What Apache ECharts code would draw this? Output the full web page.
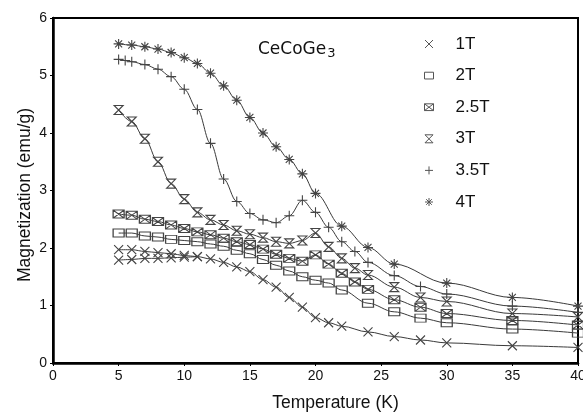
<!DOCTYPE html>
<html><head><meta charset="utf-8">
<script src="https://cdn.jsdelivr.net/npm/echarts@6/dist/echarts.min.js"></script>
<style>html,body{margin:0;padding:0;background:#fff}#c{width:583px;height:412px}</style>
</head><body><div id="c"></div>
<script>
const xTicks = [0,5,10,15,20,25,30,35,40];
const yTicks = [0,1,2,3,4,5,6];
const seriesNames = ['1T','2T','2.5T','3T','3.5T','4T'];

const t1T = [5,6,7,8,9,10,11,12,13,14,15,16,17,18,19,20,21,22,24,26,28,30,35,40];
const m1T = [1.97,1.97,1.94,1.92,1.90,1.87,1.85,1.81,1.75,1.67,1.59,1.45,1.32,1.14,0.97,0.79,0.70,0.64,0.54,0.46,0.40,0.35,0.30,0.27];
const t1Tb = [5,6,7,8,9,10,11];
const m1Tb = [1.79,1.80,1.82,1.82,1.83,1.84,1.85];

const t2T = [5,6,7,8,9,10,11,12,13,14,15,16,17,18,19,20,21,22,24,26,28,30,35,40];
const m2T = [2.26,2.26,2.21,2.19,2.15,2.13,2.11,2.07,2.03,1.96,1.90,1.80,1.70,1.60,1.50,1.44,1.39,1.27,1.04,0.89,0.78,0.70,0.59,0.52];

const t25T = [5,6,7,8,9,10,11,12,13,14,15,16,17,18,19,20,21,22,23,24,26,28,30,35,40];
const m25T = [2.59,2.57,2.50,2.46,2.40,2.34,2.28,2.23,2.17,2.11,2.06,1.98,1.89,1.82,1.77,1.88,1.72,1.56,1.41,1.28,1.10,0.97,0.86,0.74,0.66];

const t3T = [5,6,7,8,9,10,11,12,13,14,15,16,17,18,19,20,21,22,23,24,26,28,30,35,40];
const m3T = [4.40,4.20,3.90,3.50,3.12,2.85,2.62,2.49,2.40,2.30,2.24,2.18,2.11,2.08,2.13,2.26,2.02,1.82,1.65,1.53,1.32,1.14,1.07,0.86,0.80];

const t35T = [5,5.5,6,7,8,9,10,11,12,13,14,15,16,17,18,19,20,21,22,23,24,26,28,30,35,40];
const m35T = [5.28,5.26,5.24,5.19,5.11,4.98,4.76,4.41,3.82,3.20,2.81,2.60,2.49,2.44,2.56,2.83,2.62,2.36,2.11,1.94,1.75,1.52,1.33,1.20,0.99,0.88];

const t4T = [5,6,7,8,9,10,11,12,13,14,15,16,17,18,19,20,22,24,26,30,35,40];
const m4T = [5.55,5.53,5.50,5.46,5.40,5.31,5.21,5.04,4.82,4.57,4.27,4.00,3.76,3.54,3.29,2.95,2.38,2.01,1.72,1.39,1.14,0.99];

const sym = {
  '1T': 'path://M0,0L10,10M10,0L0,10',
  '2T': 'path://M0,0L12,0L12,9L0,9Z',
  '2.5T': 'path://M0,0L12,0L12,9L0,9ZM0,0L12,9M12,0L0,9',
  '3T': 'path://M0,0L10,0L0,10L10,10Z',
  '3.5T': 'path://M5,0L5,10M0,5L10,5',
  '4T': 'path://M5,0L5,10M0,5L10,5M1.5,1.5L8.5,8.5M8.5,1.5L1.5,8.5'
};
const sizes = {'1T':[9,9],'2T':[11,8],'2.5T':[11,8],'3T':[9,9],'3.5T':[10,10],'4T':[10,10]};
const pairs = (t,m)=>t.map((v,i)=>[v,m[i]]);
const mk = (name, t, m, key) => ({
  name: name, type: 'line', data: pairs(t,m), smooth: 0.35, smoothMonotone: 'x',
  symbol: sym[key], symbolSize: sizes[key], showSymbol: true,
  lineStyle: {color:'#3a3a3a', width:1},
  itemStyle: {color:'rgba(0,0,0,0)', borderColor:'#444', borderWidth:1.1},
  emphasis:{disabled:true}, z: 3
});
const series = [
  mk('1T', t1T, m1T, '1T'),
  mk('1T run b', t1Tb, m1Tb, '1T'),
  mk('2T', t2T, m2T, '2T'),
  mk('2.5T', t25T, m25T, '2.5T'),
  mk('3T', t3T, m3T, '3T'),
  mk('3.5T', t35T, m35T, '3.5T'),
  mk('4T', t4T, m4T, '4T')
];
const chart = echarts.init(document.getElementById('c'), null, {renderer:'canvas'});
chart.setOption({
  animation: false,
  backgroundColor: '#fff',
  textStyle: {fontFamily: 'Liberation Sans, Arial, sans-serif'},
  grid: {left: 53, right: 5, top: 18, bottom: 49, containLabel: false, outerBoundsMode: 'none',
         show: true, borderColor: '#000', borderWidth: 2, backgroundColor: 'transparent'},
  xAxis: {
    type: 'value', min: 0, max: 40, interval: 5,
    name: 'Temperature (K)', nameLocation: 'middle', nameGap: 31, nameMoveOverlap: false,
    nameTextStyle: {fontSize: 17.5, color: '#111', padding: [0,0,0,40]},
    axisLine: {show: true, lineStyle: {color:'#000', width: 2.5}},
    axisTick: {show: true, inside: false, length: 3, lineStyle:{color:'#000'}},
    axisLabel: {fontSize: 14, color: '#111', margin: 6},
    splitLine: {show: false}
  },
  yAxis: {
    type: 'value', min: 0, max: 6, interval: 1,
    name: 'Magnetization (emu/g)', nameLocation: 'middle', nameGap: 19, nameMoveOverlap: false,
    nameTextStyle: {fontSize: 17.5, color: '#111', padding: [0,9,0,0]},
    axisLine: {show: true, lineStyle: {color:'#000', width: 2.5}},
    axisTick: {show: true, inside: false, length: 3, lineStyle:{color:'#000'}},
    axisLabel: {fontSize: 14, color: '#111', margin: 6},
    splitLine: {show: false}
  },
  legend: {
    orient: 'vertical', left: 424, top: 35, padding: 0,
    itemWidth: 9, itemHeight: 8, itemGap: 13.6,
    textStyle: {fontSize: 17, color: '#111', lineHeight: 18, padding: [0,0,0,17]},
    selectedMode: false,
    data: seriesNames.map(n => ({name: n, icon: sym[n],
      itemStyle: {color:'rgba(0,0,0,0)', borderColor:'#555', borderWidth:1}}))
  },
  graphic: [{
    type: 'text', left: 258, top: 41,
    style: {
      text: '{a|CeCoGe}{b|3}',
      rich: {
        a: {fontSize: 17, fill: '#111', fontFamily: 'DejaVu Sans, sans-serif'},
        b: {fontSize: 13, fill: '#111', fontFamily: 'DejaVu Sans, sans-serif', padding: [8,0,0,1]}
      }
    }
  }],
  series: series
});
</script></body></html>
